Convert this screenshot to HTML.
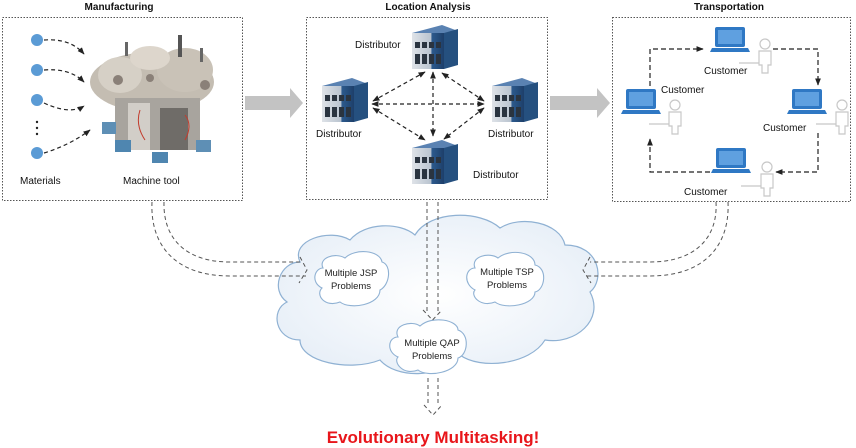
<!DOCTYPE html>
<html><head><meta charset="utf-8"><style>
body{margin:0;background:#fff}
svg{display:block}
text{font-family:"Liberation Sans",sans-serif}
</style></head><body>
<svg width="856" height="448" viewBox="0 0 856 448" xmlns="http://www.w3.org/2000/svg">
<defs>
<marker id="ah" viewBox="0 0 10 10" refX="9" refY="5" markerWidth="6" markerHeight="6" orient="auto-start-reverse"><path d="M0,1 L10,5 L0,9 z" fill="#222"/></marker>
<radialGradient id="cl" cx="0.5" cy="0.5" r="0.6"><stop offset="0" stop-color="#fff"/><stop offset="1" stop-color="#e6eef7"/></radialGradient>
<linearGradient id="bld" x1="0" y1="0" x2="1" y2="0"><stop offset="0" stop-color="#dfe3e8"/><stop offset="0.6" stop-color="#b9c3cf"/><stop offset="0.61" stop-color="#2d5b8e"/><stop offset="1" stop-color="#1d3f6a"/></linearGradient>
<g id="b">
<path d="M0,8 L30,0 L46,6 L16,14 z" fill="#5a82b2"/>
<rect x="0" y="8" width="32" height="36" fill="url(#bld)"/>
<path d="M32,8 L46,4 L46,40 L32,44 z" fill="#25507f"/>
<g fill="#2a3440"><rect x="3" y="17" width="5" height="6"/><rect x="10" y="17" width="5" height="6"/><rect x="17" y="17" width="5" height="6"/><rect x="24" y="17" width="5" height="6"/><rect x="3" y="29" width="5" height="10"/><rect x="10" y="29" width="5" height="10"/><rect x="17" y="29" width="5" height="10"/><rect x="24" y="29" width="5" height="10"/></g>
</g>
<g id="lp">
<rect x="3" y="0" width="30" height="20" rx="2" fill="#2f78c4"/>
<rect x="6" y="3" width="24" height="14" fill="#5fa0e0"/>
<path d="M0,21 L36,21 L38,25 L-2,25 z" fill="#2f78c4"/>
</g>
<g id="ps" fill="none" stroke="#c8c8c8" stroke-width="1.2">
<circle cx="8" cy="5" r="5"/><path d="M2,12 h12 v14 h-3 v8 h-6 v-8 h-3 z"/><path d="M-18,24 h20"/>
</g>
</defs>

<g font-size="10" font-weight="bold" fill="#111" text-anchor="middle">
<text x="119" y="10">Manufacturing</text>
<text x="428" y="10">Location Analysis</text>
<text x="729" y="10">Transportation</text>
</g>
<g fill="none" stroke="#555" stroke-dasharray="1.5,1.5">
<rect x="2.5" y="17.5" width="240" height="183"/>
<rect x="306.5" y="17.5" width="241" height="182"/>
<rect x="612.5" y="17.5" width="238" height="184"/>
</g>
<path d="M245,96 h45 v-8 l13,15 l-13,15 v-8 h-45z" fill="#c3c3c3"/>
<path d="M550,96 h47 v-8 l13,15 l-13,15 v-8 h-47z" fill="#c3c3c3"/>

<g fill="#5b9bd5"><circle cx="37" cy="40" r="6"/><circle cx="37" cy="70" r="6"/><circle cx="37" cy="100" r="6"/><circle cx="37" cy="153" r="6"/></g>
<g fill="#222"><circle cx="37" cy="122" r="1.2"/><circle cx="37" cy="128" r="1.2"/><circle cx="37" cy="134" r="1.2"/></g>
<g fill="none" stroke="#222" stroke-width="1.2" stroke-dasharray="4,3" marker-end="url(#ah)">
<path d="M44,40 Q70,38 84,54"/><path d="M44,70 Q70,68 84,82"/><path d="M44,103 Q70,115 84,106"/><path d="M44,153 Q70,145 90,130"/>
</g>
<g>
<ellipse cx="152" cy="82" rx="62" ry="30" fill="#c4bdb2"/>
<ellipse cx="120" cy="75" rx="22" ry="18" fill="#d6d0c6"/>
<ellipse cx="185" cy="70" rx="28" ry="22" fill="#c9c2b7"/>
<ellipse cx="150" cy="58" rx="20" ry="12" fill="#ddd6cc"/>
<circle cx="118" cy="80" r="5" fill="#8a8078"/><circle cx="205" cy="85" r="5" fill="#8a8078"/><circle cx="150" cy="78" r="4" fill="#8a8078"/>
<rect x="115" y="98" width="85" height="52" fill="#a8a49e"/>
<rect x="128" y="103" width="22" height="47" fill="#d2cec8"/>
<rect x="160" y="108" width="28" height="42" fill="#6f6c68"/>
<rect x="102" y="122" width="14" height="12" fill="#5e8fb5"/>
<rect x="115" y="140" width="16" height="12" fill="#4f86b0"/>
<rect x="152" y="152" width="16" height="11" fill="#4f86b0"/>
<rect x="196" y="140" width="15" height="12" fill="#5e8fb5"/>
<rect x="178" y="35" width="4" height="22" fill="#555"/>
<rect x="125" y="42" width="3" height="14" fill="#666"/><rect x="200" y="48" width="3" height="14" fill="#666"/>
<path d="M140,110 q-5,15 5,30 M185,115 q8,10 0,25" stroke="#c23b2c" fill="none"/>
</g>
<g font-size="10" fill="#111"><text x="20" y="184">Materials</text><text x="123" y="184">Machine tool</text></g>

<g fill="none" stroke="#222" stroke-width="1.2" stroke-dasharray="4,3" marker-end="url(#ah)" marker-start="url(#ah)">
<path d="M372,104 L484,104"/>
<path d="M433,72 L433,136"/>
<path d="M373,101 L425,72"/>
<path d="M373,108 L425,140"/>
<path d="M484,101 L442,73"/>
<path d="M484,108 L444,139"/>
</g>
<use href="#b" x="412" y="25"/>
<use href="#b" x="322" y="78"/>
<use href="#b" x="492" y="78"/>
<use href="#b" x="412" y="140"/>
<g font-size="10" fill="#111">
<text x="355" y="48">Distributor</text>
<text x="316" y="137">Distributor</text>
<text x="488" y="137">Distributor</text>
<text x="473" y="178">Distributor</text>
</g>

<g fill="none" stroke="#222" stroke-width="1.2" stroke-dasharray="5,3">
<path d="M650,86 V49 H703" marker-end="url(#ah)"/>
<path d="M773,49 H818 V85" marker-end="url(#ah)"/>
<path d="M818,133 V172 H776" marker-end="url(#ah)"/>
<path d="M710,172 H650 V139" marker-end="url(#ah)"/>
</g>
<use href="#lp" x="712" y="27"/>
<use href="#lp" x="623" y="89"/>
<use href="#lp" x="789" y="89"/>
<use href="#lp" x="713" y="148"/>
<use href="#ps" x="757" y="39"/>
<use href="#ps" x="667" y="100"/>
<use href="#ps" x="834" y="100"/>
<use href="#ps" x="759" y="162"/>
<g font-size="10" fill="#111">
<text x="704" y="74">Customer</text>
<text x="661" y="93">Customer</text>
<text x="763" y="131">Customer</text>
<text x="684" y="195">Customer</text>
</g>

<path d="M300,262 C290,240 330,228 350,240 C365,222 400,222 415,235 C430,210 480,210 500,228 C520,215 560,222 565,245 C600,245 605,280 590,292 C605,320 575,345 545,340 C530,365 480,370 460,355 C440,380 395,378 380,360 C350,372 300,362 300,340 C275,340 270,310 287,302 C270,290 280,262 300,262 z" fill="url(#cl)" stroke="#8fb1d3" stroke-width="1.2"/>
<g fill="#fff" stroke="#8fb1d3" stroke-width="1.1">
<path d="M323,268 C318,258 335,252 345,258 C355,248 380,250 382,262 C392,265 390,285 380,290 C380,305 350,310 340,302 C325,308 315,295 322,288 C310,282 315,268 323,268 z"/>
<path d="M475,268 C470,256 490,252 498,258 C510,248 535,252 535,265 C548,268 545,290 535,292 C535,305 505,310 495,302 C480,308 470,295 475,290 C463,284 465,268 475,268 z"/>
<path d="M398,337 C392,325 412,320 420,326 C432,315 458,320 458,330 C470,334 468,355 458,358 C458,372 428,378 418,370 C403,376 393,362 398,357 C386,352 388,337 398,337 z"/>
</g>
<g font-size="9.5" fill="#222" text-anchor="middle">
<text x="351" y="276">Multiple JSP</text><text x="351" y="289">Problems</text>
<text x="507" y="275">Multiple TSP</text><text x="507" y="288">Problems</text>
<text x="432" y="346">Multiple QAP</text><text x="432" y="359">Problems</text>
</g>

<g fill="none" stroke="#555" stroke-width="1" stroke-dasharray="4,3">
<path d="M152,202 C150,245 175,276 230,276 H306"/>
<path d="M164,202 C163,238 185,262 230,262 H302"/>
<path d="M300,257 L307,270 L299,283"/>
<path d="M728,202 C730,245 705,276 650,276 H586"/>
<path d="M716,202 C718,238 695,262 650,262 H590"/>
<path d="M590,257 L583,270 L591,283"/>
<path d="M427,202 V311 M438,202 V311"/>
<path d="M423,310 L432.5,320 L442,310"/>
<path d="M428,378 V406 M438,378 V406"/>
<path d="M424,405 L433,415 L442,405"/>
</g>

<text x="433" y="443" text-anchor="middle" font-size="17" font-weight="bold" fill="#e8161b" font-family="Liberation Sans Narrow, Liberation Sans, sans-serif">Evolutionary Multitasking!</text>
</svg>
</body></html>
